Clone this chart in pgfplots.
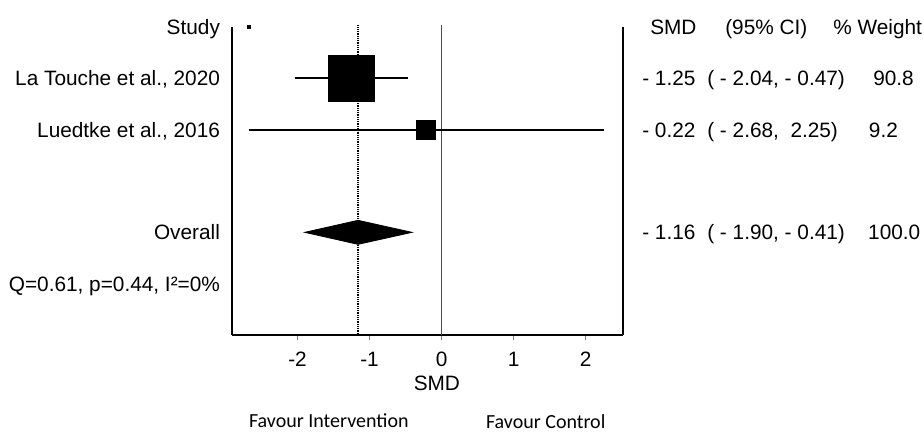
\documentclass[border=0pt]{standalone}
\usepackage{fontspec}
\setmainfont{Liberation Sans}
\newfontfamily\calibri{Carlito}
\usepackage{pgfplots}
\pgfplotsset{compat=1.18}

\begin{document}
\begin{tikzpicture}[font=\fontsize{10.4}{12.5}\selectfont,
    col/.style={anchor=west, inner sep=0pt, text height=7.5pt, text depth=0pt}]
\begin{axis}[
    scale only axis,
    width=195.5pt, height=154pt,
    xmin=-2.91, xmax=2.52,
    ymin=-6, ymax=0,
    axis x line*=bottom,
    axis y line*=box,
    axis line style={-, line width=1.4pt},
    tick align=outside,
    major tick length=2.5pt,
    xtick={-2,-1,0,1,2},
    xticklabels={-2,-1,0,1,2},
    x tick style={gray, line width=0.6pt},
    xticklabel style={yshift=-2.5pt},
    ytick={0,-1,-2,-4,-5},
    yticklabels={Study, {La Touche et al., 2020}, {Luedtke et al., 2016}, Overall, {Q=0.61, p=0.44, I²=0\%}},
    yticklabel style={text height=7.5pt, text depth=0pt},
    ytick pos=left,
    y tick style={draw=none},
    xlabel={SMD},
    xlabel style={at={(axis description cs:0.524,0)}, anchor=center, yshift=-24pt},
    clip=false,
]
% reference lines
\addplot[gray!60!black, line width=0.5pt] coordinates {(0,0.03) (0,-6)};
\addplot[black, line width=0.9pt, dash pattern=on 0.45pt off 0.45pt] coordinates {(-1.16,0.03) (-1.16,-6)};

% confidence intervals
\addplot[black, line width=1.1pt] coordinates {(-2.04,-1) (-0.47,-1)};
\addplot[black, line width=1.1pt] coordinates {(-2.68,-2) (2.25,-2)};

% study estimates (box size ~ weight)
\addplot[only marks, mark=square*, mark size=11.5pt, black] coordinates {(-1.25,-1)};
\addplot[only marks, mark=square*, mark size=4.75pt, black] coordinates {(-0.22,-2)};
\addplot[only marks, mark=square*, mark size=0.7pt, black] coordinates {(-2.68,0)};

% pooled estimate
\addplot[draw=black, fill=black] coordinates {(-1.90,-4) (-1.16,-3.766) (-0.41,-4) (-1.16,-4.234)} -- cycle;

% right hand columns
\node[col] at (axis cs:2.893,0) {SMD};
\node[col] at (axis cs:3.935,0) {(95\% CI)};
\node[col] at (axis cs:5.435,0) {\% Weight};

\node[col] at (axis cs:2.782,-1) {- 1.25};
\node[col] at (axis cs:3.685,-1) {( - 2.04, - 0.47)};
\node[col] at (axis cs:5.99,-1) {90.8};

\node[col] at (axis cs:2.782,-2) {- 0.22};
\node[col] at (axis cs:3.685,-2) {( - 2.68,\ \ 2.25)};
\node[col] at (axis cs:5.93,-2) {9.2};

\node[col] at (axis cs:2.782,-4) {- 1.16};
\node[col] at (axis cs:3.685,-4) {( - 1.90, - 0.41)};
\node[col] at (axis cs:5.92,-4) {100.0};

% direction labels
\node[font=\calibri\fontsize{10}{12}\selectfont] at (axis cs:-1.565,-7.66) {Favour Intervention};
\node[font=\calibri\fontsize{10}{12}\selectfont] at (axis cs:1.447,-7.69) {Favour Control};
\end{axis}
\path (current axis.south west) ++(-116pt,-47.5pt);
\path (current axis.south west) ++(346pt,167.5pt);
\end{tikzpicture}
\end{document}
